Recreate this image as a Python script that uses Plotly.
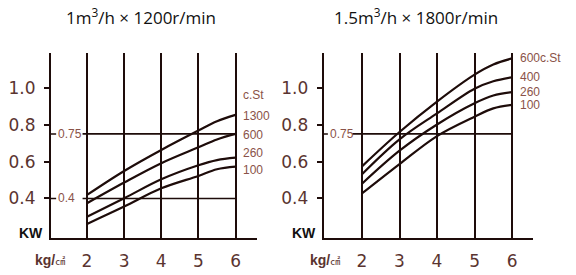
import plotly.graph_objects as go

# ---------------- data ----------------
pressure = [2, 3, 4, 5, 5.5, 6]  # kg/cm2

# left chart: 1 m3/h x 1200 r/min
left_title = "1m<sup>3</sup>/h × 1200r/min"
left_names = ["1300", "600", "260", "100"]
left_1300 = [0.419, 0.549, 0.663, 0.768, 0.818, 0.853]
left_600 = [0.374, 0.486, 0.591, 0.677, 0.720, 0.750]
left_260 = [0.301, 0.401, 0.504, 0.580, 0.608, 0.621]
left_100 = [0.262, 0.356, 0.455, 0.522, 0.558, 0.572]
left_refs = [0.4, 0.75]
left_yticks = [0.4, 0.6, 0.8, 1.0]

# right chart: 1.5 m3/h x 1800 r/min
right_title = "1.5m<sup>3</sup>/h × 1800r/min"
right_names = ["600c.St", "400", "260", "100"]
right_600 = [0.574, 0.760, 0.925, 1.071, 1.126, 1.159]
right_400 = [0.531, 0.720, 0.861, 0.995, 1.035, 1.057]
right_260 = [0.480, 0.659, 0.801, 0.916, 0.958, 0.976]
right_100 = [0.427, 0.586, 0.738, 0.843, 0.888, 0.907]
right_refs = [0.75]
right_yticks = [0.4, 0.6, 0.8, 1.0, 1.2]

xticks = [2, 3, 4, 5, 6]

# ---------------- style ----------------
INK = "#1e0c0a"
LBL = "#5a3430"
SML = "#8a5248"
NUM_FONT = "DejaVu Sans, sans-serif"
SMALL_FONT = "Liberation Sans, Arial, sans-serif"

fig = go.Figure()

def add_panel(xa, ya, series, names, refs, ref_start, label_nudge):
    for vals, nm in zip(series, names):
        fig.add_trace(go.Scatter(x=pressure, y=vals, mode="lines", xaxis=xa, yaxis=ya,
                                 line=dict(color=INK, width=2.2, shape="spline", smoothing=1.0),
                                 showlegend=False, hoverinfo="skip"))
    for r in refs:
        fig.add_trace(go.Scatter(x=[ref_start, xticks[-1]], y=[r, r], mode="lines",
                                 xaxis=xa, yaxis=ya, line=dict(color=INK, width=1.6),
                                 showlegend=False, hoverinfo="skip"))
    for vals, nm, dv in zip(series, names, label_nudge):
        fig.add_annotation(x=xticks[-1] + 0.15, y=vals[-1] + dv, xref=xa, yref=ya,
                           text=nm, showarrow=False, xanchor="left", yanchor="middle",
                           font=dict(family=SMALL_FONT, size=12, color=SML))

add_panel("x", "y", [left_1300, left_600, left_260, left_100], left_names,
          left_refs, 1.88, [-0.005, -0.005, 0.025, -0.02])
add_panel("x2", "y2", [right_600, right_400, right_260, right_100], right_names,
          right_refs, 1.74, [0.0, 0.0, 0.0, 0.0])

# "c.St" header above left labels
fig.add_annotation(x=6.15, y=0.96, xref="x", yref="y", text="c.St", showarrow=False,
                   xanchor="left", yanchor="middle",
                   font=dict(family=SMALL_FONT, size=12, color=SML))

# reference value labels inside plot
for r in left_refs:
    fig.add_annotation(x=1.17, y=r, xref="x", yref="y", text=f"{r:g}", showarrow=False,
                       xanchor="left", yanchor="middle",
                       font=dict(family=SMALL_FONT, size=12, color=SML))
    fig.add_shape(type="line", xref="x domain", yref="y", x0=0, x1=0.025, y0=r, y1=r,
                  line=dict(color=INK, width=1.5))
for r in right_refs:
    fig.add_annotation(x=1.1, y=r, xref="x2", yref="y2", text=f"{r:g}", showarrow=False,
                       xanchor="left", yanchor="middle",
                       font=dict(family=SMALL_FONT, size=12, color=SML))
    fig.add_shape(type="line", xref="x2 domain", yref="y2", x0=0, x1=0.02, y0=r, y1=r,
                  line=dict(color=INK, width=1.5))

# titles
for xp, t in [(141 / 576, left_title), (416 / 576, right_title)]:
    fig.add_annotation(x=xp, y=1 - 16 / 275, xref="paper", yref="paper", text=t,
                       showarrow=False, xanchor="center", yanchor="middle",
                       font=dict(family="Open Sans, Liberation Sans, sans-serif", size=17, color="#111"))

# axis unit labels
for xp_kw, xp_kg in [(31 / 576, 50 / 576), (304 / 576, 325 / 576)]:
    fig.add_annotation(x=xp_kw, y=1 - 233 / 275, xref="paper", yref="paper", text="<b>KW</b>",
                       showarrow=False, xanchor="center", yanchor="middle",
                       font=dict(family="Liberation Sans, sans-serif", size=14, color="#111"))
    fig.add_annotation(x=xp_kg, y=1 - 260 / 275, xref="paper", yref="paper",
                       text="<b>kg/</b><span style='font-size:10px'>㎠</span>",
                       showarrow=False, xanchor="center", yanchor="middle",
                       font=dict(family="Liberation Sans, Noto Sans CJK SC, sans-serif", size=14, color=LBL))

ydom = [1 - 238.3 / 275, 1 - 52.7 / 275]
yrange = [0.184, 1.19]

common_x = dict(tickvals=xticks, showgrid=True, gridcolor=INK, gridwidth=2,
                showline=True, linecolor=INK, linewidth=2, ticks="", zeroline=False,
                tickfont=dict(family=NUM_FONT, size=17, color=LBL), ticklabelstandoff=6,
                automargin=False)
common_y = dict(showgrid=False, showline=True, linecolor=INK, linewidth=2, zeroline=False,
                ticks="outside", ticklen=5, tickwidth=1.5, tickcolor=INK,
                tickfont=dict(family=NUM_FONT, size=17, color=LBL), tickformat=".1f",
                ticklabelstandoff=5, range=yrange, domain=ydom, automargin=False)

fig.update_layout(
    width=576, height=275, margin=dict(l=0, r=0, t=0, b=0),
    paper_bgcolor="white", plot_bgcolor="white",
    xaxis=dict(**common_x, domain=[51 / 576, 256.7 / 576], range=[1.03, 6.57], anchor="y"),
    yaxis=dict(**common_y, tickvals=left_yticks, anchor="x"),
    xaxis2=dict(**common_x, domain=[323.7 / 576, 532.7 / 576], range=[0.979, 6.55], anchor="y2"),
    yaxis2=dict(**common_y, tickvals=right_yticks, anchor="x2"),
)

fig.write_html("out.html", config={"displayModeBar": False},
               post_script="document.body.style.margin='0';document.body.style.overflow='hidden';")
